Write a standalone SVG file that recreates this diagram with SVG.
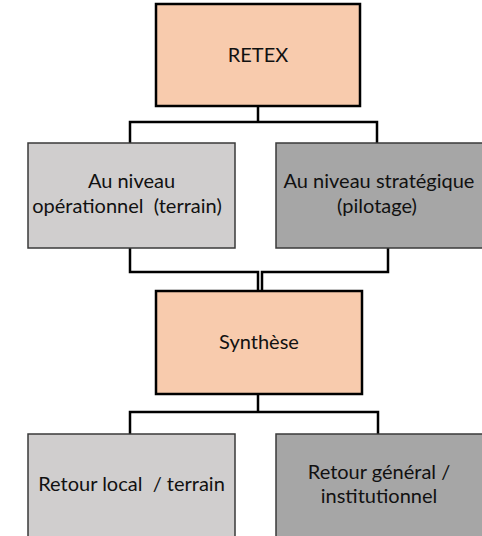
<svg xmlns="http://www.w3.org/2000/svg" width="482" height="536" viewBox="0 0 482 536">
<style>
.peach{fill:#f8cbad;stroke:#000;stroke-width:2.5}
.lg{fill:#d0cece;stroke:#3a3a3a;stroke-width:1.5}
.dg{fill:#a6a6a6;stroke:#3a3a3a;stroke-width:1.5}
.t{font-family:Lato,"Liberation Sans",Arial,sans-serif;font-size:20px;fill:#111;text-anchor:middle;white-space:pre}
.c{fill:none;stroke:#000;stroke-width:2.5}
</style>
<rect width="482" height="536" fill="#fff"/>
<g id="connectors">
<path class="c" d="M258 106 V122 M130 143 V122 H377 V143"/>
<path class="c" d="M130 248 V272 H258 V290 M388 248 V272 H262 V290"/>
<path class="c" d="M258 394 V412 M130 434 V412 H378 V434"/>
</g>
<g id="retex"><rect class="peach" x="156" y="4" width="204" height="102"/><text class="t" x="258" y="62">RETEX</text></g>
<g id="operationnel"><rect class="lg" x="28" y="143" width="207" height="105"/><text class="t" x="131.5" y="188">Au niveau</text><text class="t" x="127" y="213" xml:space="preserve">opérationnel  (terrain)</text></g>
<g id="strategique"><rect class="dg" x="276" y="143" width="208" height="105"/><text class="t" x="379" y="188">Au niveau stratégique</text><text class="t" x="377" y="213">(pilotage)</text></g>
<g id="synthese"><rect class="peach" x="156" y="291" width="206" height="103"/><text class="t" x="259" y="349">Synthèse</text></g>
<g id="local"><rect class="lg" x="28" y="434" width="207" height="106"/><text class="t" x="131.5" y="491" xml:space="preserve">Retour local  / terrain</text></g>
<g id="general"><rect class="dg" x="276" y="434" width="208" height="106"/><text class="t" x="379" y="479">Retour général /</text><text class="t" x="379" y="503">institutionnel</text></g>
</svg>
